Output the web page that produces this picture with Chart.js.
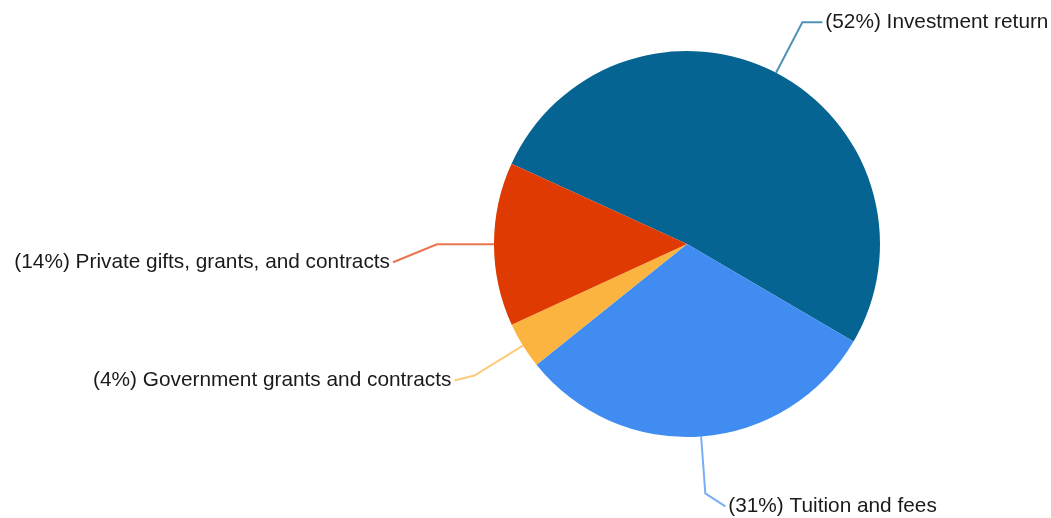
<!DOCTYPE html>
<html>
<head>
<meta charset="utf-8">
<script src="https://cdn.jsdelivr.net/npm/chart.js@4/dist/chart.umd.min.js"></script>
<style>
  html, body { margin: 0; padding: 0; background: #fff; }
  #wrap { width: 1051px; height: 518px; position: relative; }
</style>
</head>
<body>
<div id="wrap"><canvas id="chart"></canvas></div>
<script>
// 値は画像から読み取り（時計回り）
const categories = ["Investment return", "Tuition and fees", "Government grants and contracts", "Private gifts, grants, and contracts"];
const shares = [51.6, 30.8, 3.9, 13.7];
const colors = ["#056492", "#418CF0", "#FCB441", "#DF3A02"];

// ラベル位置の微調整 (引き出し線の二本目の長さ, 縦ずれ)
const labelTweak = [
    { dx: 20, dy: 0 },
    { dx: 20, dy: 13 },
    { dx: 20, dy: 5 },
    { dx: 44, dy: 18 }
];

const calloutPlugin = {
    id: "callout",
    afterDatasetsDraw(chart) {
        const ctx = chart.ctx;
        const total = shares.reduce((a, b) => a + b, 0);
        const arcs = chart.getDatasetMeta(0).data;
        ctx.save();
        ctx.font = "20.8px 'Liberation Sans', Arial, sans-serif";
        ctx.textBaseline = "middle";
        arcs.forEach((arc, i) => {
            const mid = (arc.startAngle + arc.endAngle) / 2;
            const cos = Math.cos(mid), sin = Math.sin(mid);
            const r = arc.outerRadius;
            const ax = arc.x + cos * r, ay = arc.y + sin * r;
            const ex = arc.x + cos * (r + 57), ey = arc.y + sin * (r + 57);
            const right = cos >= 0;
            const tx = ex + (right ? labelTweak[i].dx : -labelTweak[i].dx);
            const ty = ey + labelTweak[i].dy;
            // 引き出し線（少し薄め）
            ctx.strokeStyle = colors[i];
            ctx.globalAlpha = 0.7;
            ctx.lineWidth = 2;
            ctx.beginPath();
            ctx.moveTo(ax, ay);
            ctx.lineTo(ex, ey);
            ctx.lineTo(tx, ty);
            ctx.stroke();
            ctx.globalAlpha = 1;
            // ラベル
            const pct = Math.round(shares[i] / total * 100);
            ctx.fillStyle = "#1a1a1a";
            ctx.textAlign = right ? "left" : "right";
            ctx.fillText("(" + pct + "%) " + categories[i], tx + (right ? 3 : -3), ty);
        });
        ctx.restore();
    }
};

window.addEventListener("load", () => {
    new Chart(document.getElementById("chart"), {
        type: "pie",
        data: {
            labels: categories,
            datasets: [{
                data: shares,
                backgroundColor: colors,
                borderWidth: 0
            }]
        },
        options: {
            responsive: true,
            maintainAspectRatio: false,
            animation: false,
            rotation: 294.6,
            layout: {
                padding: { left: 494, right: 171, top: 51, bottom: 81 }
            },
            plugins: {
                legend: { display: false },
                tooltip: { enabled: false }
            }
        },
        plugins: [calloutPlugin]
    });
});
</script>
</body>
</html>
